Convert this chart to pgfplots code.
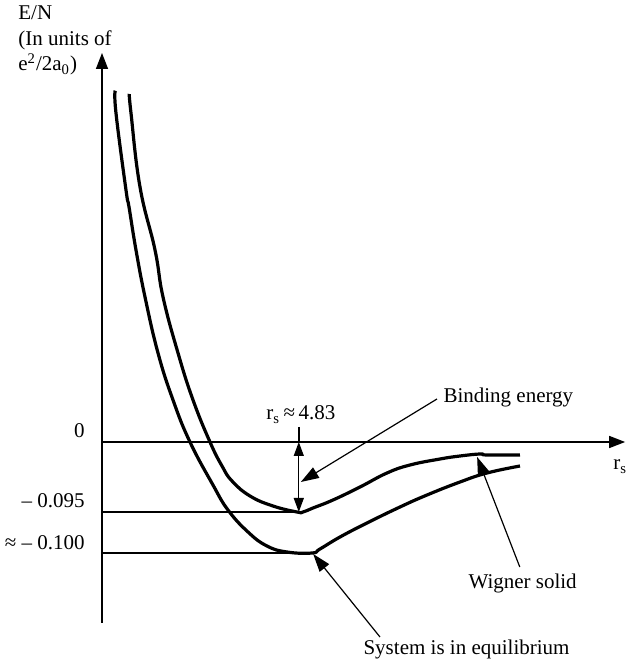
\documentclass[border=0pt]{standalone}
\usepackage{fontspec}
\setmainfont{Liberation Serif}
\usepackage{pgfplots}
\pgfplotsset{compat=1.18}
\usetikzlibrary{arrows.meta}
\begin{document}
\begin{tikzpicture}[font=\fontsize{10.5}{12.6}\selectfont]
\useasboundingbox (-51pt,-21pt) rectangle (262.5pt,311.5pt);
\begin{axis}[
  at={(0,0)}, anchor=south west,
  scale only axis, x=20.5pt, y=50pt,
  xmin=0, xmax=12.76, ymin=-1.81, ymax=3.89,
  axis lines=middle, ticks=none,
  axis line style={line width=0.75pt, -{Triangle[length=8pt,width=6pt]}},
  clip=false,
]
% reference lines
\addplot[line width=0.6pt] coordinates {(0,-0.70) (4.80,-0.70)};
\addplot[line width=0.6pt] coordinates {(0,-1.11) (5.12,-1.11)};
% curve with minimum -0.100
\addplot[line width=1.6pt, smooth, tension=0.75] coordinates {
(0.324,3.513) (0.341,3.29) (0.585,2.52) (0.659,2.35) (0.829,1.92)
(1.049,1.45) (1.366,0.89) (1.732,0.42) (2.146,0) (2.707,-0.43)
(3.073,-0.68) (3.561,-0.90) (4.024,-1.04) (4.512,-1.10) (5.122,-1.11)
(5.317,-1.07) (5.805,-0.95) (6.463,-0.81) (7.268,-0.65) (7.927,-0.53)
(8.732,-0.40) (9.390,-0.31) (10.195,-0.24)};
% curve with minimum -0.095
\addplot[line width=1.6pt, smooth, tension=0.75] coordinates {
(0.666,3.48) (0.707,3.29) (0.927,2.55) (1.293,1.92) (1.488,1.45)
(1.854,0.89) (2.220,0.42) (2.634,0) (2.927,-0.24) (3.171,-0.39)
(3.610,-0.54) (4.171,-0.64) (4.756,-0.70) (4.902,-0.70) (5.146,-0.66)
(5.634,-0.58) (6.293,-0.45) (6.951,-0.31) (7.512,-0.23) (8.244,-0.17)
(8.732,-0.14) (9.220,-0.12) (9.390,-0.13) (10.195,-0.13)};
% tick labels
\node[anchor=base east, inner sep=0pt] at (axis cs:-0.415,0.04) {0};
\node[anchor=base east, inner sep=0pt] at (axis cs:-0.415,-0.66) {– 0.095};
\node[anchor=base east, inner sep=0pt] at (axis cs:-0.415,-1.08) {≈ – 0.100};
% y label
\node[anchor=base west, inner sep=0pt] at (axis cs:-2.05,4.22) {E/N};
\node[anchor=base west, inner sep=0pt] at (axis cs:-2.05,3.96) {(In units of};
\node[anchor=base west, inner sep=0pt] at (axis cs:-2.05,3.71) {e\textsuperscript{2}/2a\textsubscript{0})};
% x label
\node[anchor=base west, inner sep=0pt] at (axis cs:12.46,-0.28) {r\textsubscript{s}};
% binding energy marker
\draw[line width=1.2pt] (axis cs:4.80,0.15) -- (axis cs:4.80,0);
\draw[line width=0.6pt, {Triangle[length=7pt,width=5pt]}-{Triangle[length=7pt,width=5pt]}] (axis cs:4.80,0) -- (axis cs:4.80,-0.70);
\node[anchor=base] at (axis cs:4.85,0.22) {r\textsubscript{s}\,≈\,4.83};
\draw[line width=0.6pt, -{Triangle[length=9pt,width=6pt]}] (axis cs:8.17,0.43) -- (axis cs:4.85,-0.40);
\node[anchor=base west, inner sep=0pt] at (axis cs:8.32,0.39) {Binding energy};
% Wigner solid
\draw[line width=0.6pt, -{Triangle[length=9pt,width=6pt]}] (axis cs:10.19,-1.25) -- (axis cs:9.15,-0.15);
\node[anchor=base west, inner sep=0pt] at (axis cs:8.93,-1.47) {Wigner solid};
% equilibrium
\draw[line width=0.6pt, -{Triangle[length=9pt,width=6pt]}] (axis cs:6.78,-1.95) -- (axis cs:5.15,-1.12);
\node[anchor=base west, inner sep=0pt] at (axis cs:6.37,-2.13) {System is in equilibrium};
\end{axis}
\end{tikzpicture}
\end{document}
